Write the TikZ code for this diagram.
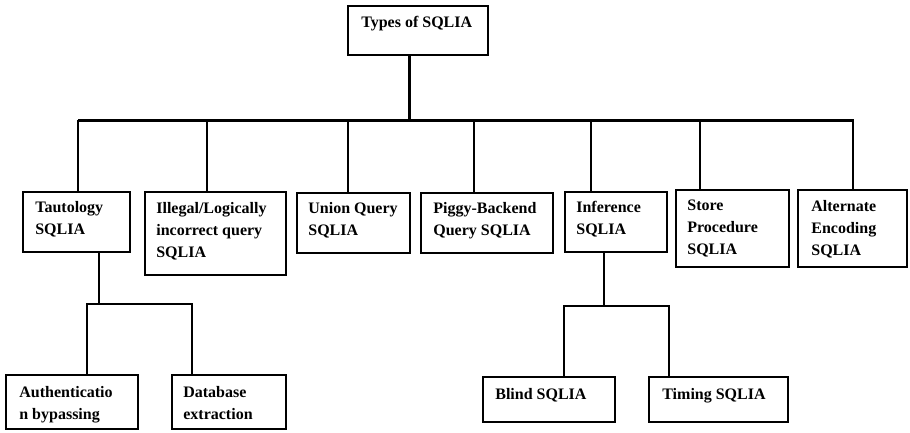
\documentclass[tikz,border=0pt]{standalone}
\usepackage{fontspec}
\setmainfont{Liberation Serif}
\usetikzlibrary{fit,calc}
\newcommand\sqbox[7]{%
  \node[box, fit={(#2,#3) (#4,#5)}] (#1) {};
  \node[txt] (#1-t) at ($(#1.north west)+(#6)$) {#7};}
\begin{document}
\begin{tikzpicture}[x=1pt,y=-1pt,
  box/.style={draw, line width=1.7pt, inner sep=0pt},
  txt/.style={anchor=north west, inner sep=0pt, align=left, font=\fontsize{16}{22}\selectfont\bfseries},
  barline/.style={line width=3pt},
  stemline/.style={line width=2.2pt},
  subline/.style={line width=1.8pt}]
\useasboundingbox (0,0) rectangle (910,432);

\sqbox{top}{348}{6}{488}{55}{14,11}{Types of SQLIA}
\sqbox{taut}{23}{192}{130}{252}{13,10}{Tautology\\SQLIA}
\sqbox{ill}{145}{192}{286}{275}{12,11}{Illegal/Logically\\incorrect query\\SQLIA}
\sqbox{uni}{297}{193}{410}{253}{12,10}{Union Query\\SQLIA}
\sqbox{pig}{421}{193}{553}{253}{13,10}{Piggy-Backend\\Query SQLIA}
\sqbox{inf}{565}{192}{667}{252}{12,10}{Inference\\SQLIA}
\sqbox{sto}{676}{190}{789}{267}{12,11}{Store\\Procedure\\SQLIA}
\sqbox{alt}{798}{190}{907}{267}{14,11}{Alternate\\Encoding\\SQLIA}
\sqbox{auth}{6}{375}{138}{429}{14,12}{Authenticatio\\n bypassing}
\sqbox{db}{172}{375}{286}{429}{12,12}{Database\\extraction}
\sqbox{bli}{483}{377}{615}{422}{13,12}{Blind SQLIA}
\sqbox{tim}{649}{377}{788}{422}{14,12}{Timing SQLIA}

% main bar
\coordinate (barL) at (78,120);
\coordinate (barR) at (854,120);
\draw[barline] (barL) -- (barR);
\coordinate (trunk) at ($(top.south west)+(62,0)$);
\draw[barline] (trunk) -- (trunk |- barL);

% stems
\coordinate (s-taut) at ($(taut.north west)+(56,0)$);
\coordinate (s-ill) at ($(ill.north west)+(63,0)$);
\coordinate (s-uni) at ($(uni.north west)+(52,0)$);
\coordinate (s-pig) at ($(pig.north west)+(54,0)$);
\coordinate (s-inf) at ($(inf.north west)+(27,0)$);
\coordinate (s-sto) at ($(sto.north west)+(25,0)$);
\coordinate (s-alt) at ($(alt.north west)+(56,0)$);
\foreach \s in {taut,ill,uni,pig,inf,sto,alt}
  \draw[stemline] (s-\s) -- (s-\s |- barL);

% tautology subtree
\coordinate (tb) at ($(taut.south west)+(77,0)$);
\coordinate (j1) at ($(tb)+(0,51)$);
\coordinate (a1) at ($(auth.north west)+(82,0)$);
\coordinate (d1) at ($(db.north west)+(21,0)$);
\draw[subline] (tb) -- (j1);
\draw[subline] (a1) |- (j1) -| (d1);

% inference subtree
\coordinate (ib) at ($(inf.south west)+(40,0)$);
\coordinate (j2) at ($(ib)+(0,53)$);
\coordinate (b1) at ($(bli.north west)+(82,0)$);
\coordinate (t1) at ($(tim.north west)+(21,0)$);
\draw[subline] (ib) -- (j2);
\draw[subline] (b1) |- (j2) -| (t1);
\end{tikzpicture}
\end{document}
